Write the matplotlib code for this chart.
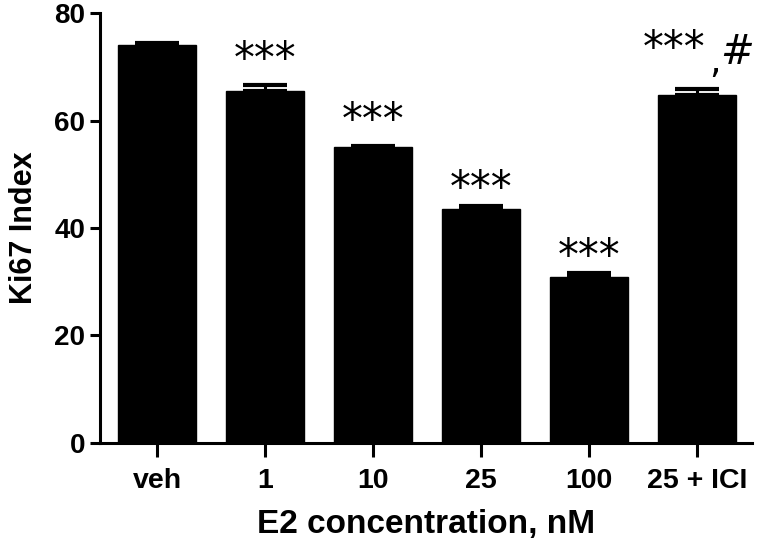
import matplotlib
matplotlib.use("Agg")
import matplotlib.pyplot as plt
import numpy as np

# data
groups = ["veh", "1", "10", "25", "100", "25 + ICI"]
ki67 = [74.0, 65.5, 55.0, 43.5, 30.9, 64.7]
sem = [0.5, 1.2, 0.3, 0.6, 0.7, 1.1]
marks = ["", "***", "***", "***", "***", "***"]
mark_y = [0, 71.2, 60.0, 47.3, 34.6, 73.3]

plt.rcParams["font.family"] = ["Liberation Sans", "DejaVu Sans"]

fig = plt.figure(figsize=(7.75, 5.46), dpi=100)
ax = fig.add_axes([0.129, 0.189, 0.841, 0.787])

x = np.arange(len(groups))
ax.bar(x, ki67, width=0.72, color="black", edgecolor="black", zorder=2)
ax.errorbar(x, ki67, yerr=[np.zeros(len(sem)), sem], fmt="none", ecolor="black",
            elinewidth=2.2, capsize=15.5, capthick=3.0, zorder=3)

for xi, m, my in zip(x, marks, mark_y):
    if not m:
        continue
    dx = -0.21 if xi == len(groups) - 1 else 0
    ax.text(xi + dx, my, m, ha="center", va="center", fontsize=30,
            family="DejaVu Sans")

# second mark on the last bar: ",#"
ax.text(x[-1] + 0.17, 70.8, ",", ha="center", va="center", fontsize=26,
        family="DejaVu Sans")
ax.text(x[-1] + 0.37, 72.7, "#", ha="center", va="center", fontsize=29,
        family="DejaVu Sans", style="italic")

ax.set_xlim(-0.528, 5.51)
ax.set_ylim(0, 80)
ax.set_yticks([0, 20, 40, 60, 80])
ax.set_xticks(x)
ax.set_xticklabels(groups)

for s in ["top", "right"]:
    ax.spines[s].set_visible(False)
for s in ["left", "bottom"]:
    ax.spines[s].set_linewidth(2.2)

ax.tick_params(axis="y", length=7.5, width=2.2, labelsize=20, pad=3)
ax.tick_params(axis="x", length=10, width=2.2, labelsize=20.5, pad=8)
for lab in ax.get_xticklabels() + ax.get_yticklabels():
    lab.set_fontweight("bold")

ax.set_xlabel("E2 concentration, nM", fontsize=24, fontweight="bold", labelpad=11)
ax.set_ylabel("Ki67 Index", fontsize=22, fontweight="bold", labelpad=11)

fig.savefig("out.png", dpi=100)
